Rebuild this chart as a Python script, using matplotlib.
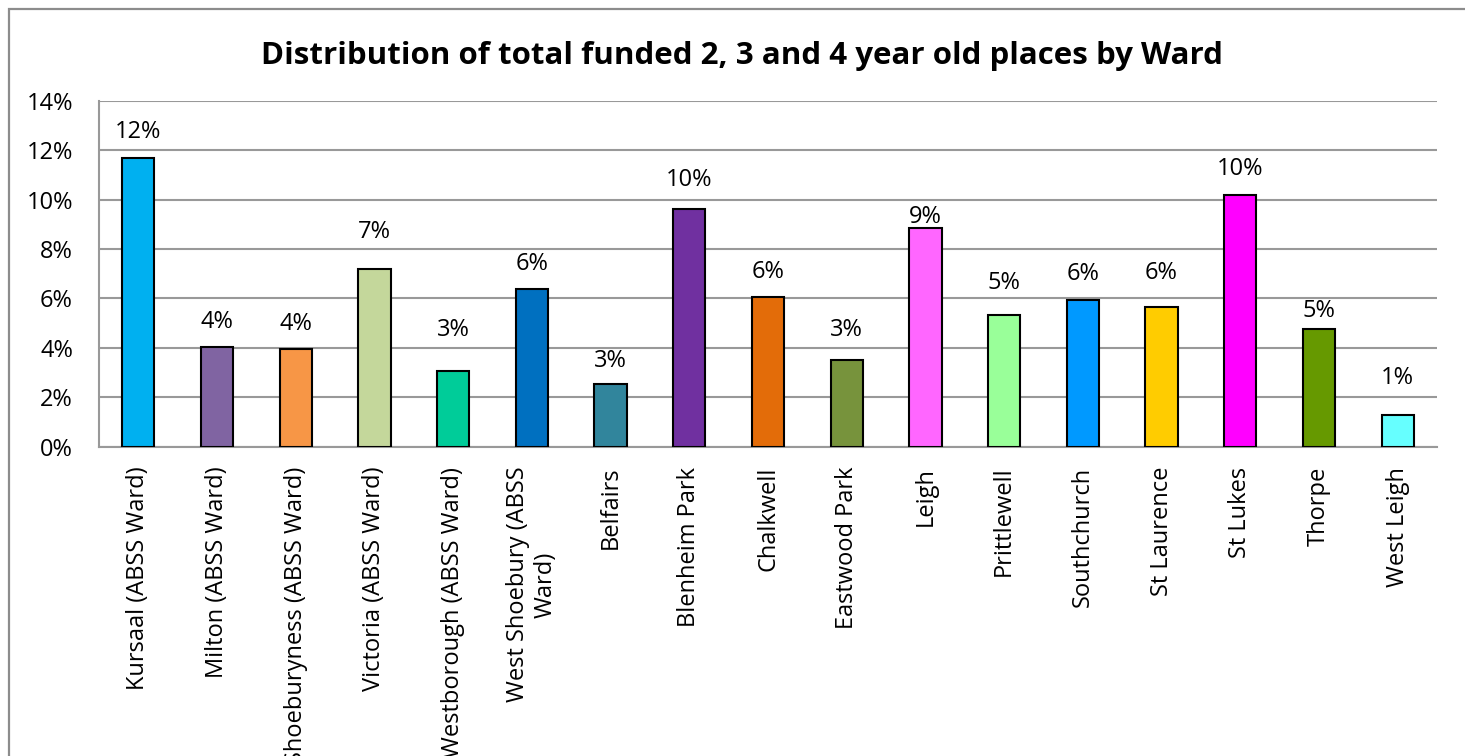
import matplotlib
matplotlib.use("Agg")
import matplotlib.pyplot as plt
from matplotlib.patches import Rectangle
from matplotlib.ticker import PercentFormatter

wards = [
    "Kursaal (ABSS Ward)", "Milton (ABSS Ward)", "Shoeburyness (ABSS Ward)",
    "Victoria (ABSS Ward)", "Westborough (ABSS Ward)", "West Shoebury (ABSS\nWard)",
    "Belfairs", "Blenheim Park", "Chalkwell", "Eastwood Park", "Leigh",
    "Prittlewell", "Southchurch", "St Laurence", "St Lukes", "Thorpe", "West Leigh",
]
shares = [11.68, 4.05, 3.97, 7.19, 3.08, 6.39, 2.54, 9.63, 6.06, 3.50, 8.86,
          5.33, 5.92, 5.65, 10.20, 4.76, 1.30]
value_labels = ["12%", "4%", "4%", "7%", "3%", "6%", "3%", "10%", "6%", "3%", "9%",
                "5%", "6%", "6%", "10%", "5%", "1%"]
colors = ["#00B0F0", "#8064A2", "#F79646", "#C4D79B", "#00CC99", "#0070C0",
          "#31859C", "#7030A0", "#E36C09", "#77933C", "#FF66FF", "#99FF99",
          "#0099FF", "#FFCC00", "#FF00FF", "#669900", "#66FFFF"]
# gap (px) between bar top and label baseline
label_gap_px = [20, 19, 19, 31, 35, 19, 17, 23, 19, 24, 5, 26, 20, 28, 20, 12, 31]
y_ticks = [0, 2, 4, 6, 8, 10, 12, 14]
title = "Distribution of total funded 2, 3 and 4 year old places by Ward"

W, H, DPI = 1465, 756, 100
plt.rcParams['font.family'] = ['Open Sans', 'DejaVu Sans']
fig = plt.figure(figsize=(W / DPI, H / DPI), dpi=DPI)

left, right, top, bottom = 99, 1437, 100.7, 446.7
ax = fig.add_axes([left / W, 1 - bottom / H, (right - left) / W, (bottom - top) / H])

x = list(range(len(wards)))
bars = ax.bar(x, shares, width=0.41, color=colors, edgecolor="black", linewidth=1.5, zorder=3)

for xi, v, lab, gap in zip(x, shares, value_labels, label_gap_px):
    ax.annotate(lab, (xi, v), xytext=(0, gap * 72 / DPI), textcoords="offset points",
                ha="center", va="baseline", fontsize=17, color="black", zorder=4)

ax.set_xlim(-0.5, len(wards) - 0.5)
ax.set_ylim(0, 14)
ax.set_yticks(y_ticks)
ax.yaxis.set_major_formatter(PercentFormatter(decimals=0))
ax.grid(axis="y", color="#999999", linewidth=1.5, zorder=0)
ax.set_axisbelow(True)
for s in ["top", "right"]:
    ax.spines[s].set_visible(False)
for s in ["left", "bottom"]:
    ax.spines[s].set_color("#999999")
    ax.spines[s].set_linewidth(1.5)
ax.tick_params(axis="y", length=0, pad=26 * 72 / DPI, labelsize=17)
ax.tick_params(axis="x", length=0)
ax.set_xticks(x)
ax.set_xticklabels([])
for xi, lab in zip(x, wards):
    ax.annotate(lab, (xi, 0), xytext=(0, -20 * 72 / DPI), textcoords="offset points",
                rotation=90, ha="center", va="top", multialignment="center",
                fontsize=17, annotation_clip=False)

fig.text(742 / W, 1 - 56 / H, title, ha="center", va="center",
         fontsize=22.5, fontweight="bold")

fig.patches.append(Rectangle((9 / W, -0.1), 1.2, (1 - 9 / H) + 0.1,
                             transform=fig.transFigure, fill=False,
                             edgecolor="#8c8c8c", linewidth=1.6))

fig.savefig("out.png", dpi=DPI)
